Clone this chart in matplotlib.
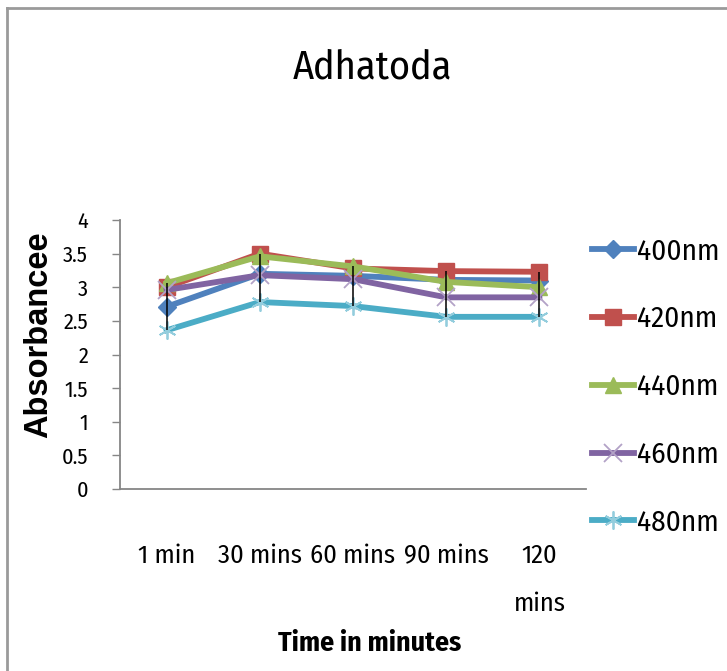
import matplotlib
matplotlib.use("Agg")
import matplotlib.pyplot as plt
from matplotlib.lines import Line2D

# ---- data ----
categories = ["1 min", "30 mins", "60 mins", "90 mins", "120\nmins"]
series_names = ["400nm", "420nm", "440nm", "460nm", "480nm"]
s400 = [2.71, 3.20, 3.17, 3.11, 3.10]
s420 = [3.00, 3.50, 3.28, 3.24, 3.23]
s440 = [3.06, 3.46, 3.31, 3.08, 3.00]
s460 = [2.96, 3.18, 3.12, 2.85, 2.85]
s480 = [2.36, 2.78, 2.72, 2.56, 2.56]
yticks = [0, 0.5, 1, 1.5, 2, 2.5, 3, 3.5, 4]
ytick_labels = ["0", "0.5", "1", "1.5", "2", "2.5", "3", "3.5", "4"]
title = "Adhatoda"
xlabel = "Time in minutes"
ylabel = "Absorbancee"

all_series = [s400, s420, s440, s460, s480]
colors = ["#4F81BD", "#C0504D", "#9BBB59", "#8064A2", "#4BACC6"]
marker_edge = ["#4F81BD", "#C0504D", "#9BBB59", "#B3A2C7", "#93CDDD"]
markers = ["D", "s", "^", "x", (6, 2, 0)]
msizes = [9, 11, 11, 13, 13]

plt.rcParams["font.family"] = ["Fira Sans Condensed", "Carlito", "DejaVu Sans"]

W, H = 727, 671
fig = plt.figure(figsize=(W / 100, H / 100), dpi=100)
fig.patch.set_facecolor("white")

ax = fig.add_axes([120 / W, 1 - 489 / H, (586 - 120) / W, (489 - 220) / H])
x = list(range(len(categories)))

for vals, name, c, me, m, ms in zip(all_series, series_names, colors, marker_edge, markers, msizes):
    filled = m in ("D", "s", "^")
    ax.plot(x, vals, color=c, lw=4.2, marker=m, markersize=ms,
            markerfacecolor=c if filled else "none",
            markeredgecolor=me, markeredgewidth=1.0 if filled else 1.3,
            label=name, zorder=3, solid_joinstyle="miter")

# high-low lines
lows = [min(v) for v in zip(*all_series)]
highs = [max(v) for v in zip(*all_series)]
ax.vlines(x, lows, highs, colors="black", lw=1.1, zorder=5)

ax.set_xlim(-0.5, len(categories) - 0.5)
ax.set_ylim(0, 4)
ax.set_yticks(yticks)
ax.set_yticklabels(ytick_labels, fontsize=16)
ax.set_xticks(x)
ax.set_xticklabels(categories, fontsize=19, linespacing=2.2, va="top")
ax.tick_params(axis="x", length=0, pad=39)
ax.tick_params(axis="y", length=6, width=1, color="#868686", direction="out", pad=17)
for s in ["top", "right"]:
    ax.spines[s].set_visible(False)
for s in ["left", "bottom"]:
    ax.spines[s].set_color("#868686")
    ax.spines[s].set_linewidth(1.3)

fig.text(372 / W, 1 - 68 / H, title, ha="center", va="center", fontsize=29)
fig.text(370 / W, 1 - 643 / H, xlabel, ha="center", va="center",
         fontsize=20, fontweight="bold")
fig.text(39 / W, 1 - 335 / H, ylabel, ha="center", va="center",
         rotation=90, fontsize=23.5, fontweight="bold",
         family=["Liberation Sans", "DejaVu Sans"])

leg = fig.legend(loc="upper left", bbox_to_anchor=(592 / W, 1 - 237 / H),
                 frameon=False, fontsize=21, handlelength=1.45, handletextpad=0.1,
                 labelspacing=1.35, borderaxespad=0, borderpad=0)

# figure frame (top and left edges)
fig.add_artist(Line2D([7 / W, 1], [1 - 8 / H, 1 - 8 / H], transform=fig.transFigure,
                      color="#9a9a9a", lw=2))
fig.add_artist(Line2D([7 / W, 7 / W], [0, 1 - 8 / H], transform=fig.transFigure,
                      color="#9a9a9a", lw=2))

fig.savefig("out.png", dpi=100, facecolor="white")
